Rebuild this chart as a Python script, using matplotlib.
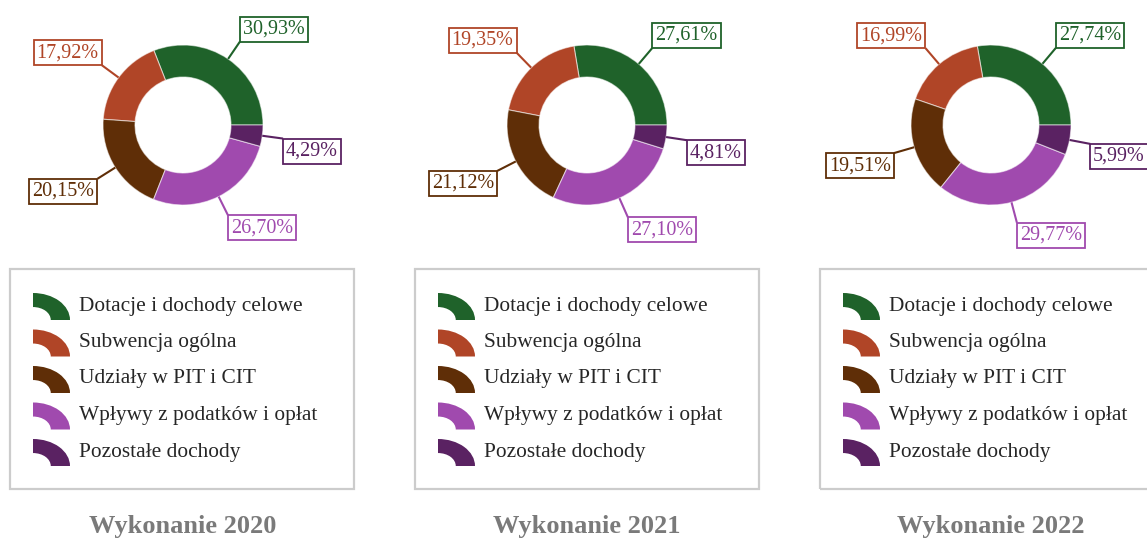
import numpy as np
import matplotlib.pyplot as plt
from matplotlib.patches import Wedge, Rectangle
from matplotlib.transforms import Affine2D

plt.rcParams['font.family'] = ['Liberation Serif', 'DejaVu Serif']

# Data
categories = ['Dotacje i dochody celowe', 'Subwencja ogólna', 'Udziały w PIT i CIT',
              'Wpływy z podatków i opłat', 'Pozostałe dochody']
years = ['2020', '2021', '2022']
share_2020 = [30.93, 17.92, 20.15, 26.70, 4.29]
share_2021 = [27.61, 19.35, 21.12, 27.10, 4.81]
share_2022 = [27.74, 16.99, 19.51, 29.77, 5.99]
shares = [share_2020, share_2021, share_2022]

colors = ['#1f622a', '#b04527', '#5f2e07', '#a04aae', '#5a2262']

W, H = 1147, 538
fig = plt.figure(figsize=(W / 100, H / 100), dpi=100)
ax = fig.add_axes([0, 0, 1, 1])

R_OUT, R_IN = 80, 48
R_LBL = 101
centers_x = [183, 587, 991]
cy = H - 125
label_fs = 14.5
pad_px = 0.15 * label_fs * 100 / 72

for k, (year, vals) in enumerate(zip(years, shares)):
    cx = centers_x[k]
    wedges, _ = ax.pie(vals, colors=colors, startangle=0, counterclock=True,
                       radius=R_OUT, center=(cx, cy),
                       wedgeprops=dict(width=R_OUT - R_IN, edgecolor=(1, 1, 1, 0.55),
                                       linewidth=0.8))
    for w, v, c in zip(wedges, vals, colors):
        ang = np.deg2rad((w.theta1 + w.theta2) / 2)
        ca, sa = np.cos(ang), np.sin(ang)
        x0, y0 = cx + R_OUT * ca, cy + R_OUT * sa
        x1, y1 = cx + R_LBL * ca, cy + R_LBL * sa
        ax.plot([x0, x1], [y0, y1], color=c, lw=1.5, solid_capstyle='butt', zorder=3)
        ha = 'left' if ca >= 0 else 'right'
        va = 'bottom' if sa > 0 else 'top'
        dx = pad_px if ca >= 0 else -pad_px
        dy = pad_px if sa > 0 else -pad_px
        label = f'{v:.2f}%'.replace('.', ',')
        ax.annotate(label, xy=(x1, y1), xytext=(dx, dy), textcoords='offset pixels',
                    ha=ha, va=va, fontsize=label_fs, color=c, zorder=4,
                    bbox=dict(boxstyle='square,pad=0.15', fc='white', ec=c, lw=1.3))

    # legend box
    left = 10 + 405 * k
    ax.add_patch(Rectangle((left, H - 489), 344, 220, fc='none', ec='#cccccc', lw=1.6))
    for i, (cat, c) in enumerate(zip(categories, colors)):
        # quarter-ring icon (slightly elliptical)
        icon = Wedge((0, 0), 1, 0, 90, width=0.52, fc=c, ec='none')
        icon.set_transform(Affine2D().scale(37, 27)
                           .translate(left + 23, H - (320 + 36.5 * i)) + ax.transData)
        ax.add_patch(icon)
        ax.text(left + 69, H - (306 + 36.5 * i), cat, fontsize=15.4, color='#262626',
                va='center', ha='left')

    ax.text(cx, H - 526, f'Wykonanie {year}', fontsize=19, fontweight='bold',
            color='#7a7a7a', ha='center', va='center')

ax.set_xlim(0, W)
ax.set_ylim(0, H)
ax.set_aspect('equal')
ax.axis('off')

fig.savefig('out.png', dpi=100)
